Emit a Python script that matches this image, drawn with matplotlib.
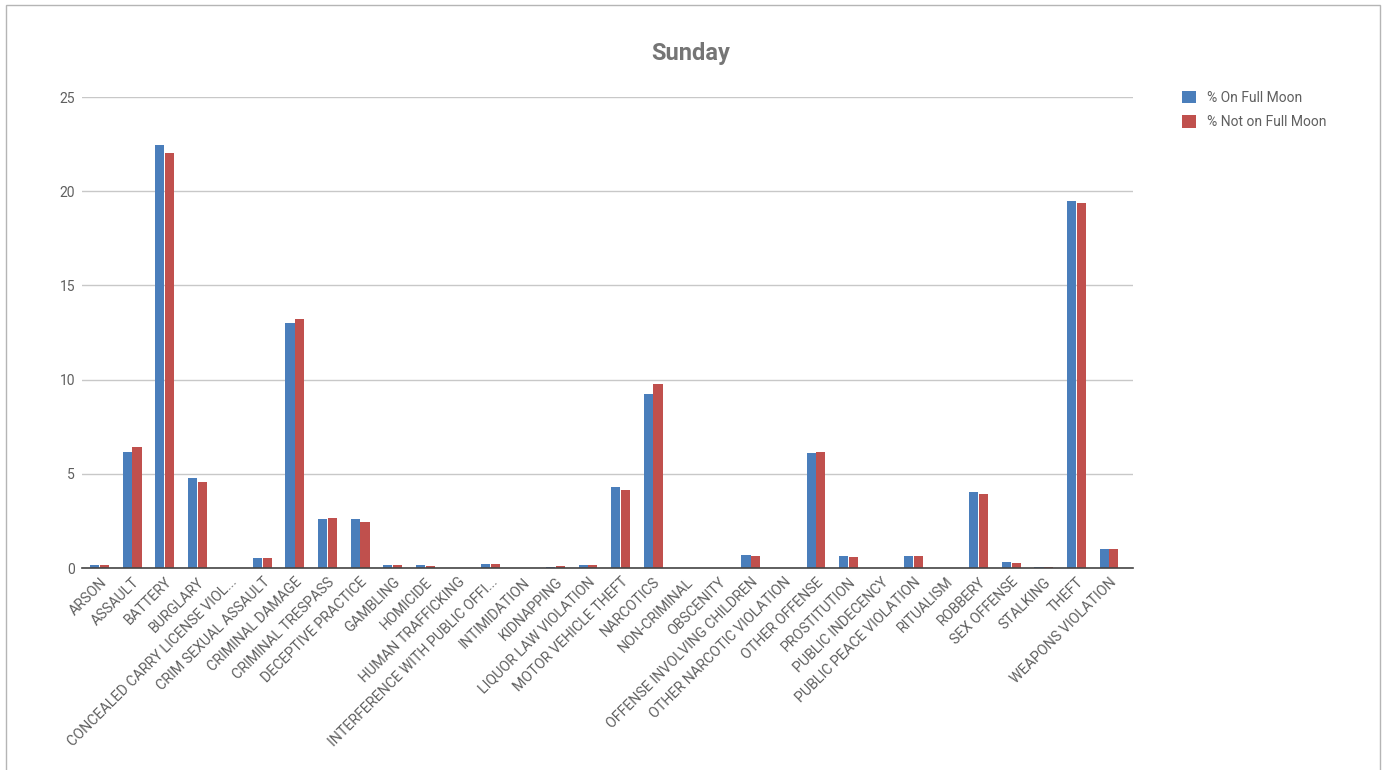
import numpy as np
import matplotlib
matplotlib.use("Agg")
import matplotlib.pyplot as plt
from matplotlib.patches import Rectangle

plt.rcParams["font.family"] = ["Roboto", "DejaVu Sans"]

categories = [
    "ARSON", "ASSAULT", "BATTERY", "BURGLARY", "CONCEALED CARRY LICENSE VIOL...",
    "CRIM SEXUAL ASSAULT", "CRIMINAL DAMAGE", "CRIMINAL TRESPASS", "DECEPTIVE PRACTICE",
    "GAMBLING", "HOMICIDE", "HUMAN TRAFFICKING", "INTERFERENCE WITH PUBLIC OFFI...",
    "INTIMIDATION", "KIDNAPPING", "LIQUOR LAW VIOLATION", "MOTOR VEHICLE THEFT",
    "NARCOTICS", "NON-CRIMINAL", "OBSCENITY", "OFFENSE INVOLVING CHILDREN",
    "OTHER NARCOTIC VIOLATION", "OTHER OFFENSE", "PROSTITUTION", "PUBLIC INDECENCY",
    "PUBLIC PEACE VIOLATION", "RITUALISM", "ROBBERY", "SEX OFFENSE", "STALKING",
    "THEFT", "WEAPONS VIOLATION",
]
on_full_moon = [
    0.18, 6.15, 22.44, 4.77, 0.0, 0.53, 12.99, 2.60, 2.60, 0.18, 0.18, 0.0, 0.23,
    0.0, 0.07, 0.18, 4.29, 9.22, 0.0, 0.0, 0.71, 0.0, 6.10, 0.65, 0.0, 0.65, 0.0,
    4.01, 0.30, 0.07, 19.47, 1.00,
]
not_full_moon = [
    0.18, 6.45, 22.03, 4.59, 0.0, 0.53, 13.22, 2.65, 2.44, 0.18, 0.12, 0.0, 0.23,
    0.0, 0.12, 0.18, 4.12, 9.75, 0.0, 0.0, 0.62, 0.0, 6.15, 0.58, 0.0, 0.65, 0.0,
    3.94, 0.25, 0.07, 19.40, 1.00,
]
series_names = ["% On Full Moon", "% Not on Full Moon"]
title = "Sunday"

blue = "#4a7ebb"
red = "#c0504d"
text_gray = "#5f5f5f"

fig = plt.figure(figsize=(13.86, 7.70), dpi=100)
ax = fig.add_axes([0.0592, 0.2623, 0.7583, 0.6117])

x = np.arange(len(categories))
w = 0.28
ax.bar(x - 0.15, on_full_moon, width=w, color=blue, label=series_names[0], zorder=3)
ax.bar(x + 0.15, not_full_moon, width=w, color=red, label=series_names[1], zorder=3)

# categories sit a little inside the gridline extent on the right
ax.set_xlim(-0.537, len(categories) - 1 + 0.737)
ax.set_ylim(0, 25)
ax.set_yticks([0, 5, 10, 15, 20, 25])
ax.yaxis.grid(True, color="#c8c8c8", linewidth=1, zorder=0)
ax.set_axisbelow(True)

for side in ["top", "right", "left"]:
    ax.spines[side].set_visible(False)
ax.spines["bottom"].set_color("#444444")
ax.spines["bottom"].set_linewidth(1.2)
ax.spines["bottom"].set_zorder(4)

ax.set_xticks(x)
ax.set_xticklabels(categories, rotation=45, ha="right", rotation_mode="anchor",
                   fontsize=10.3, color=text_gray)
ax.tick_params(axis="x", length=0, pad=5)
ax.tick_params(axis="y", length=0, pad=5, labelsize=10, labelcolor=text_gray)

fig.text(0.4985, 0.931, title, ha="center", va="center", fontsize=17,
         fontweight="bold", color="#757575")

leg = ax.legend(loc="upper left", bbox_to_anchor=(1.035, 1.04), frameon=False,
                fontsize=10, handlelength=1.0, handleheight=1.0, handletextpad=0.8,
                labelspacing=0.75, labelcolor=text_gray)

# thin frame around the whole figure
fig.patches.append(Rectangle((0.004, -0.01), 0.992, 1.004, transform=fig.transFigure,
                             fill=False, edgecolor="#b5b5b5", linewidth=1))

fig.savefig("out.png", dpi=100, facecolor="white")
